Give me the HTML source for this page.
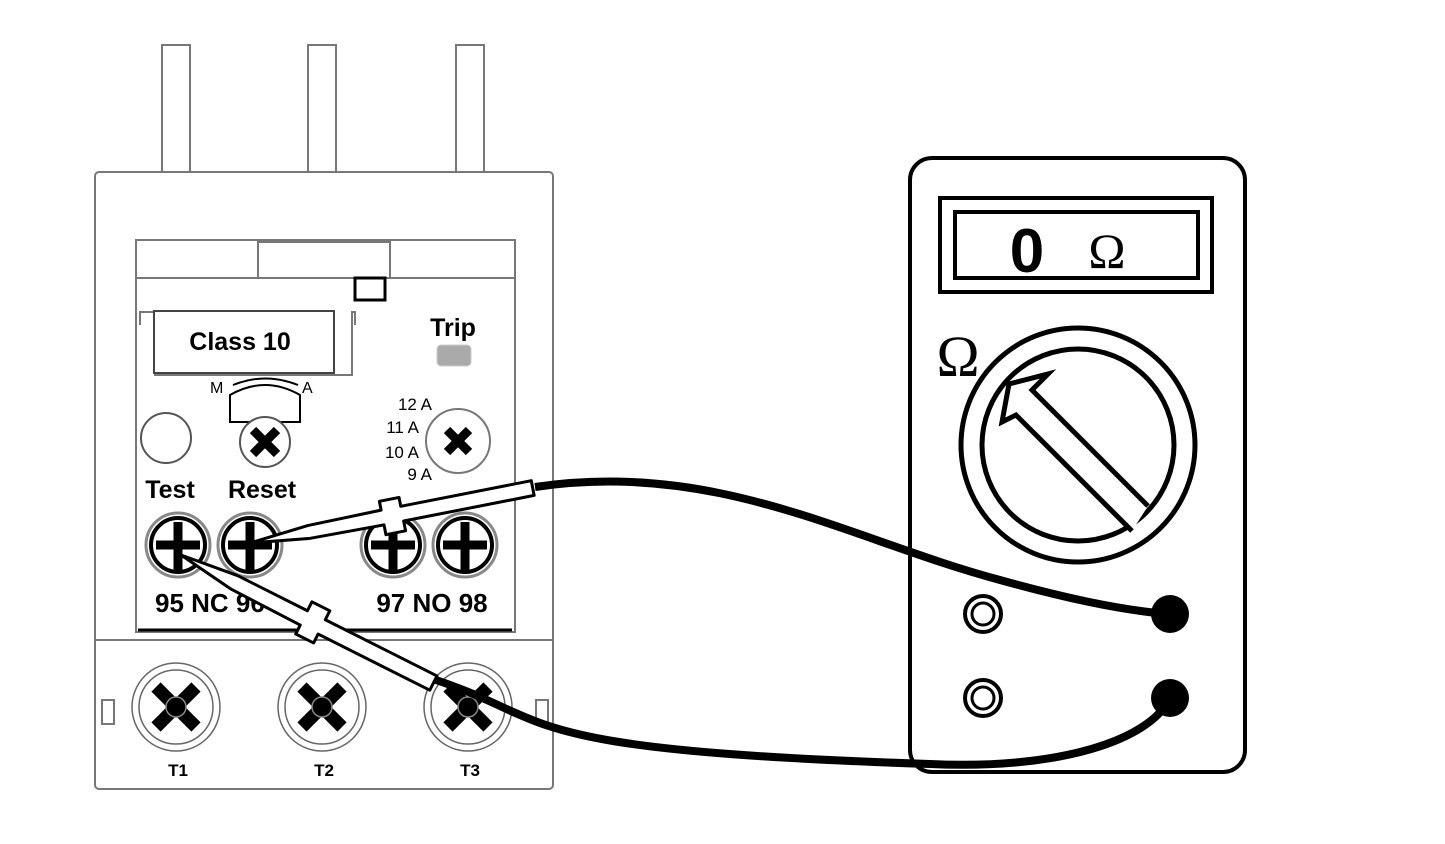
<!DOCTYPE html>
<html><head><style>body{margin:0;background:#fff}svg{display:block}text{font-family:"Liberation Sans",sans-serif}</style></head><body>
<svg width="1445" height="844" viewBox="0 0 1445 844" xmlns="http://www.w3.org/2000/svg">
<g fill="#fff" stroke="#777" stroke-width="2">
<rect x="162" y="45" width="28" height="130"/><rect x="308" y="45" width="28" height="130"/><rect x="456" y="45" width="28" height="130"/>
<rect x="95" y="172" width="458" height="617" rx="4"/>
<rect x="136" y="240" width="379" height="392"/>
<line x1="136" y1="278" x2="515" y2="278"/>
<rect x="258" y="242" width="132" height="36"/>
<line x1="95" y1="640" x2="553" y2="640"/>
<rect x="102" y="700" width="12" height="24"/><rect x="536" y="700" width="12" height="24"/>
<polyline points="140,325 140,312 155,312 155,375 352,375 352,312 355,312 355,325"/>
<rect x="154" y="311" width="180" height="62" stroke="#444"/>
</g>
<line x1="138" y1="630" x2="512" y2="630" stroke="#000" stroke-width="3"/>
<rect x="355" y="278" width="30" height="22" fill="#fff" stroke="#000" stroke-width="3"/>
<text x="240" y="350" font-size="25" font-weight="bold" text-anchor="middle">Class 10</text>
<text x="453" y="336" font-size="25" font-weight="bold" text-anchor="middle">Trip</text>
<rect x="437" y="345" width="34" height="21" rx="4" fill="#aaa" stroke="#ccc"/>
<text x="210" y="393" font-size="16">M</text><text x="302" y="393" font-size="16">A</text>
<path d="M233,385 Q265,372 298,385" fill="none" stroke="#000" stroke-width="2"/>
<path d="M230,395 Q265,375 300,395 L300,422 L230,422 Z" fill="#fff" stroke="#000" stroke-width="2"/>
<circle cx="166" cy="438" r="25" fill="#fff" stroke="#555" stroke-width="2"/>
<g font-size="17" text-anchor="end"><text x="432" y="410">12 A</text><text x="419" y="433">11 A</text><text x="419" y="458">10 A</text><text x="432" y="480">9 A</text></g>
<g stroke="#000" stroke-width="9">
<circle cx="265" cy="442" r="25" fill="#fff" stroke="#555" stroke-width="2"/>
<path d="M253,430 L277,454 M277,430 L253,454"/>
<circle cx="458" cy="441" r="32" fill="#fff" stroke="#777" stroke-width="2"/>
<path d="M447,430 L469,452 M469,430 L447,452"/>
</g>
<text x="170" y="498" font-size="25" font-weight="bold" text-anchor="middle">Test</text>
<text x="262" y="498" font-size="25" font-weight="bold" text-anchor="middle">Reset</text>
<g stroke="#000">
<g fill="#fff" stroke="#888" stroke-width="3"><circle cx="178" cy="545" r="32"/><circle cx="250" cy="545" r="32"/><circle cx="393" cy="545" r="32"/><circle cx="465" cy="545" r="32"/></g>
<g fill="none" stroke-width="4"><circle cx="178" cy="545" r="27"/><circle cx="250" cy="545" r="27"/><circle cx="393" cy="545" r="27"/><circle cx="465" cy="545" r="27"/></g>
<g stroke-width="9"><path d="M178,522V570M156,545H200M250,522V570M228,545H272M393,522V570M371,545H415M465,522V570M443,545H487"/></g>
</g>
<text x="155" y="612" font-size="26" font-weight="bold">95 NC 96</text>
<text x="432" y="612" font-size="26" font-weight="bold" text-anchor="middle">97 NO 98</text>
<g>
<g fill="#fff" stroke="#666" stroke-width="1.5"><circle cx="176" cy="707" r="44"/><circle cx="322" cy="707" r="44"/><circle cx="468" cy="707" r="44"/><circle cx="176" cy="707" r="37"/><circle cx="322" cy="707" r="37"/><circle cx="468" cy="707" r="37"/></g>
<g stroke="#000" stroke-width="13"><path d="M156,687L196,727M196,687L156,727M302,687L342,727M342,687L302,727M448,687L488,727M488,687L448,727"/></g>
<g stroke="#888" stroke-width="1.5"><circle cx="176" cy="707" r="10"/><circle cx="322" cy="707" r="10"/><circle cx="468" cy="707" r="10"/></g>
<g font-size="17" font-weight="bold" text-anchor="middle"><text x="178" y="776">T1</text><text x="324" y="776">T2</text><text x="470" y="776">T3</text></g>
</g>
<rect x="910" y="158" width="335" height="614" rx="22" fill="#fff" stroke="#000" stroke-width="4"/>
<rect x="940" y="198" width="272" height="94" fill="#fff" stroke="#000" stroke-width="4"/>
<rect x="955" y="212" width="243" height="66" fill="#fff" stroke="#000" stroke-width="4"/>
<text x="1027" y="272" font-size="62" font-weight="bold" text-anchor="middle">0</text>
<text x="1107" y="268" font-size="50" text-anchor="middle" style="font-family:'Liberation Serif',serif">Ω</text>
<text x="958" y="376" font-size="58" text-anchor="middle" style="font-family:'Liberation Serif',serif">Ω</text>
<circle cx="1078" cy="445" r="117" fill="#fff" stroke="#000" stroke-width="5"/>
<circle cx="1078" cy="445" r="96" fill="#fff" stroke="#000" stroke-width="5"/>
<path d="M1132,531 L1016,415 L1002,422 L1009,384 L1048,374 L1032,390 L1148,506" fill="#fff" stroke="#000" stroke-width="5" stroke-linejoin="miter"/>
<circle cx="983" cy="614" r="18" fill="#fff" stroke="#000" stroke-width="4"/><circle cx="983" cy="614" r="11" fill="#fff" stroke="#000" stroke-width="3"/>
<circle cx="983" cy="698" r="18" fill="#fff" stroke="#000" stroke-width="4"/><circle cx="983" cy="698" r="11" fill="#fff" stroke="#000" stroke-width="3"/>
<path d="M535,487 C720,460 850,540 1000,580 C1090,605 1140,612 1170,614" fill="none" stroke="#000" stroke-width="8"/>
<path d="M430,678 C560,720 500,750 930,764 C1060,770 1150,740 1170,698" fill="none" stroke="#000" stroke-width="8"/>
<circle cx="1170" cy="614" r="19"/><circle cx="1170" cy="698" r="19"/>
<g transform="translate(250,543) rotate(-11.1)">
<path d="M0,0 L60,-6 L135,-7 L135,-16 L155,-16 L155,-7 L288,-7 L288,8 L155,8 L155,18 L135,18 L135,8 L60,7 Z" fill="#fff" stroke="#000" stroke-width="3" stroke-linejoin="round"/>
</g>
<g transform="translate(181,555) rotate(26.7)">
<path d="M0,0 L60,-7 L138,-7 L138,-17 L158,-17 L158,-7 L283,-7 L283,9 L158,9 L158,19 L138,19 L138,9 L60,8 Z" fill="#fff" stroke="#000" stroke-width="3" stroke-linejoin="round"/>
</g>
</svg>
</body></html>
